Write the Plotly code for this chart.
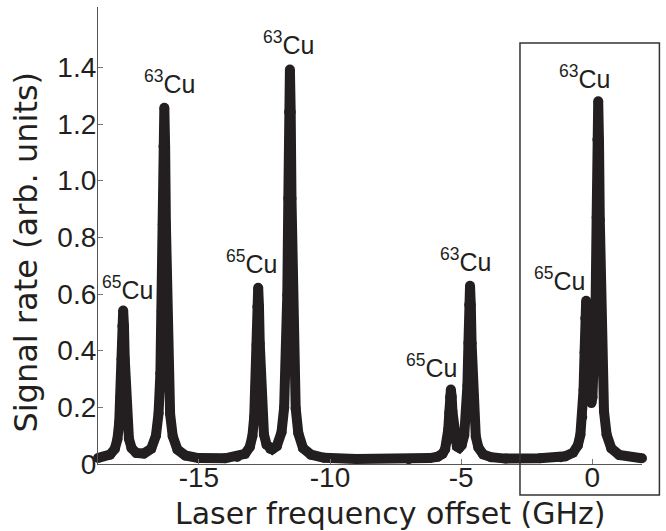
import plotly.graph_objects as go

# ---- data ----
freq_ghz = [
    -18.85, -18.39, -18.21, -18.11, -18.04, -17.99, -17.95, -17.92, -17.89,
    -17.86, -17.83, -17.79, -17.74, -17.67, -17.57, -17.39, -17.10,
    -16.82, -16.64, -16.54, -16.47, -16.42, -16.38, -16.35, -16.32,
    -16.29, -16.26, -16.22, -16.17, -16.10, -16.00, -15.82, -15.52, -15.02,
    -14.00, -13.54, -13.24, -13.06, -12.96, -12.89, -12.84, -12.80, -12.77, -12.74,
    -12.71, -12.68, -12.64, -12.59, -12.52, -12.42, -12.28, -12.20,
    -12.03, -11.85, -11.75, -11.68, -11.63, -11.59, -11.56, -11.53,
    -11.50, -11.47, -11.43, -11.38, -11.31, -11.21, -11.03, -10.73, -10.23,
    -9.00, -7.00, -6.19, -5.89, -5.71, -5.61, -5.54, -5.49, -5.45, -5.42, -5.39,
    -5.36, -5.33, -5.29, -5.24, -5.16, -5.07,
    -4.98, -4.88, -4.81, -4.76, -4.72, -4.69, -4.66,
    -4.63, -4.60, -4.56, -4.51, -4.44, -4.34, -4.16, -3.86, -3.30,
    -2.00, -1.20, -1.03, -0.73, -0.55, -0.45, -0.38, -0.33, -0.29, -0.26, -0.23,
    -0.20, -0.17, -0.13, -0.08, -0.03, 0.01, 0.08, 0.13, 0.17, 0.20, 0.23,
    0.26, 0.29, 0.33, 0.38, 0.45, 0.55, 0.73, 1.03, 1.90,
]
signal = [
    0.021, 0.033, 0.053, 0.087, 0.147, 0.239, 0.370, 0.487, 0.542,
    0.488, 0.371, 0.240, 0.148, 0.089, 0.056, 0.039, 0.037,
    0.054, 0.100, 0.179, 0.320, 0.538, 0.846, 1.121, 1.257,
    1.119, 0.844, 0.536, 0.318, 0.177, 0.098, 0.051, 0.030, 0.021,
    0.020, 0.025, 0.036, 0.060, 0.099, 0.167, 0.272, 0.421, 0.555, 0.622,
    0.556, 0.424, 0.275, 0.171, 0.104, 0.068, 0.053, 0.052,
    0.063, 0.112, 0.199, 0.354, 0.597, 0.937, 1.242, 1.392,
    1.242, 0.937, 0.596, 0.352, 0.197, 0.109, 0.056, 0.033, 0.022,
    0.018, 0.017, 0.021, 0.026, 0.036, 0.052, 0.080, 0.122, 0.182, 0.236, 0.263,
    0.237, 0.185, 0.127, 0.087, 0.062, 0.057,
    0.066, 0.102, 0.169, 0.276, 0.427, 0.562, 0.629,
    0.561, 0.426, 0.274, 0.166, 0.097, 0.058, 0.034, 0.024, 0.019,
    0.020, 0.024, 0.027, 0.040, 0.065, 0.103, 0.166, 0.261, 0.394, 0.514, 0.576,
    0.524, 0.416, 0.299, 0.229, 0.215, 0.236, 0.355, 0.566, 0.870, 1.145, 1.280,
    1.140, 0.862, 0.550, 0.329, 0.186, 0.104, 0.055, 0.032, 0.020,
]

peak_freq = [-17.89, -16.32, -12.74, -11.53, -5.39, -4.66, -0.23, 0.23]
peak_signal = [0.542, 1.257, 0.622, 1.392, 0.263, 0.629, 0.576, 1.280]
peak_labels = ["<sup>65</sup>Cu", "<sup>63</sup>Cu", "<sup>65</sup>Cu", "<sup>63</sup>Cu",
               "<sup>65</sup>Cu", "<sup>63</sup>Cu", "<sup>65</sup>Cu", "<sup>63</sup>Cu"]

x_ticks = [-15, -10, -5, 0]
x_ticktext = ["-15", "-10", "-5", "0"]
y_ticks = [0, 0.2, 0.4, 0.6, 0.8, 1.0, 1.2, 1.4]
y_ticktext = ["0", "0.2", "0.4", "0.6", "0.8", "1.0", "1.2", "1.4"]

# label offsets (pixels) relative to each peak apex
label_dx = [4, 5, -7, -1, -19, -5, -27, -14]
label_dy = [22, 26, 26, 27, 23, 26, 22, 24]

INK = "#231f20"

fig = go.Figure()
fig.add_trace(go.Scatter(
    x=freq_ghz, y=signal, mode="lines+markers",
    line=dict(color=INK, width=10),
    marker=dict(color=INK, size=10),
    showlegend=False, hoverinfo="skip", cliponaxis=False,
))

for px, py, txt, dx, dy in zip(peak_freq, peak_signal, peak_labels, label_dx, label_dy):
    fig.add_annotation(x=px, y=py, xref="x", yref="y", text=txt, showarrow=False,
                       xanchor="center", yanchor="middle", xshift=dx, yshift=dy,
                       font=dict(family="Liberation Sans, Arial", size=25, color=INK))

# axis titles
fig.add_annotation(text="Laser frequency offset (GHz)", xref="paper", yref="paper",
                   x=0.537, y=-0.109, xanchor="center", yanchor="middle", showarrow=False,
                   font=dict(family="DejaVu Sans", size=30, color=INK))
fig.add_annotation(text="Signal rate (arb. units)", xref="paper", yref="paper",
                   x=-0.132, y=0.463, xanchor="center", yanchor="middle", showarrow=False,
                   textangle=-90, font=dict(family="DejaVu Sans", size=32, color=INK))

# highlight box
fig.add_shape(type="rect", xref="paper", yref="paper", x0=0.7757, x1=1.032, y0=-0.068, y1=0.921,
              line=dict(color="#333333", width=1.5), fillcolor="rgba(0,0,0,0)")

fig.update_layout(
    width=666, height=531,
    margin=dict(l=98, r=24, t=7, b=67),
    paper_bgcolor="white", plot_bgcolor="white",
    xaxis=dict(range=[-18.85, 1.9], tickvals=x_ticks, ticktext=x_ticktext,
               showgrid=False, zeroline=False, showline=True, linecolor="#555555", linewidth=1.2,
               ticks="inside", ticklen=5, tickcolor="#777777", ticklabelstandoff=-12,
               tickfont=dict(family="Liberation Sans, Arial", size=28, color=INK)),
    yaxis=dict(range=[0, 1.613], tickvals=y_ticks, ticktext=y_ticktext,
               showgrid=False, zeroline=False, showline=True, linecolor="#555555", linewidth=1.2,
               ticks="inside", ticklen=5, tickcolor="#777777", ticklabelstandoff=-5,
               tickfont=dict(family="Liberation Sans, Arial", size=28, color=INK)),
)

fig.write_html("out.html")
